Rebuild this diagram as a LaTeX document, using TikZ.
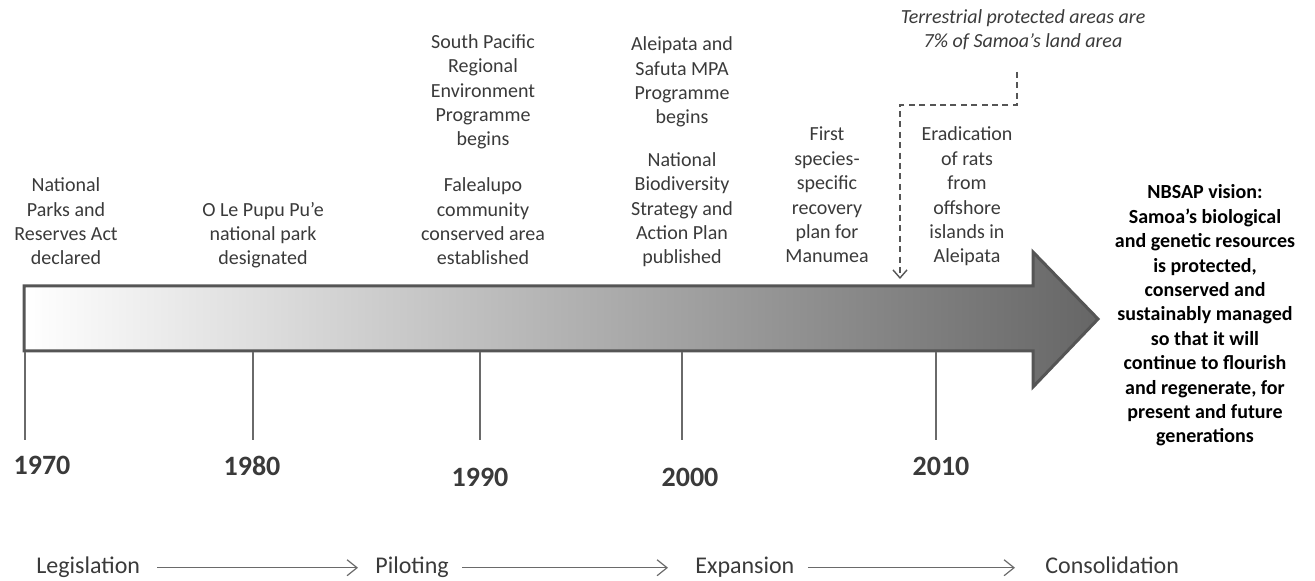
\documentclass[tikz,border=0pt]{standalone}
\usepackage{fontspec}
\setmainfont{Carlito}
\usetikzlibrary{arrows.meta}
\definecolor{txt}{HTML}{3A3A3A}
\definecolor{edge}{HTML}{555555}
\definecolor{tick}{HTML}{6A6A6A}
\tikzset{
  ev/.style={align=center, inner sep=0pt, anchor=base, text=txt, font=\fontsize{10}{12.2}\selectfont},
  evit/.style={ev, font=\fontsize{10}{12.2}\selectfont\itshape},
  vision/.style={ev, text=black, font=\fontsize{10}{12.2}\selectfont\bfseries},
  year/.style={inner sep=0pt, anchor=base, text=txt, font=\fontsize{14}{16}\selectfont\bfseries},
  phase/.style={inner sep=0pt, anchor=base west, text=txt, font=\fontsize{12}{14}\selectfont},
  tickline/.style={draw=tick, line width=0.7pt},
  phasearrow/.style={draw=tick, line width=0.6pt, -{Straight Barb[length=5pt,width=8pt,line width=0.6pt]}},
  dasharrow/.style={draw=edge, line width=0.7pt, dash pattern=on 3pt off 2.2pt, -{Straight Barb[length=4pt,width=7pt,line width=0.7pt]}}
}
\begin{document}
\begin{tikzpicture}[x=0.5pt,y=-0.5pt]
\useasboundingbox (0,0) rectangle (1315,581);
% main arrow
\shade[left color=white, right color=black!60, draw=edge, line width=1.5pt, line join=miter]
  (24,286) -- (1033,286) -- (1033,252) -- (1098,319) -- (1033,387) -- (1033,351) -- (24,351) -- cycle;
% ticks
\coordinate (t70a) at (25,352); \coordinate (t70b) at (25,440);
\coordinate (t80a) at (253,352); \coordinate (t80b) at (253,440);
\coordinate (t90a) at (480,352); \coordinate (t90b) at (480,440);
\coordinate (t00a) at (682,352); \coordinate (t00b) at (682,440);
\coordinate (t10a) at (936,352); \coordinate (t10b) at (936,440);
\draw[tickline] (t70a) -- (t70b);
\draw[tickline] (t80a) -- (t80b);
\draw[tickline] (t90a) -- (t90b);
\draw[tickline] (t00a) -- (t00b);
\draw[tickline] (t10a) -- (t10b);
% years
\node[year] (y70) at (42,475) {1970};
\node[year] (y80) at (252,476) {1980};
\node[year] (y90) at (480,487) {1990};
\node[year] (y00) at (690,487) {2000};
\node[year] (y10) at (941,476) {2010};
% events (anchor = baseline of last line)
\node[ev] (e1) at (66,265) {National\\Parks and\\Reserves Act\\declared};
\node[ev] (e2) at (263,265) {O Le Pupu Pu’e\\national park\\designated};
\node[ev] (e3) at (483,146) {South Pacific\\Regional\\Environment\\Programme\\begins};
\node[ev] (e4) at (483,265) {Falealupo\\community\\conserved area\\established};
\node[ev] (e5) at (682,124) {Aleipata and\\Safuta MPA\\Programme\\begins};
\node[ev] (e6) at (682,264) {National\\Biodiversity\\Strategy and\\Action Plan\\published};
\node[ev] (e7) at (827,263) {First\\species-\\specific\\recovery\\plan for\\Manumea};
\node[ev] (e8) at (967,263) {Eradication\\of rats\\from\\offshore\\islands in\\Aleipata};
\node[evit] (e9) at (1023,48) {Terrestrial protected areas are\\7\% of Samoa’s land area};
\node[vision] (v) at (1205,443) {NBSAP vision:\\Samoa’s biological\\and genetic resources\\is protected,\\conserved and\\sustainably managed\\so that it will\\continue to flourish\\and regenerate, for\\present and future\\generations};
% dashed connector
\coordinate (d0) at (1017,72);
\coordinate (d1) at (1017,105);
\coordinate (d2) at (900,105);
\coordinate (d3) at (900,279);
\draw[dasharrow] (d0) -- (d1) -- (d2) -- (d3);
% phases
\node[phase] (p1) at (36,574) {Legislation};
\node[phase] (p2) at (375,574) {Piloting};
\node[phase] (p3) at (695,574) {Expansion};
\node[phase] (p4) at (1045,574) {Consolidation};
\draw[phasearrow] ([xshift=8.5pt]p1.east) -- ([xshift=-8.5pt]p2.west |- p1.east);
\draw[phasearrow] ([xshift=6.5pt]p2.east |- p1.east) -- ([xshift=-13.5pt]p3.west |- p1.east);
\draw[phasearrow] ([xshift=6.5pt]p3.east |- p1.east) -- ([xshift=-15pt]p4.west |- p1.east);
\end{tikzpicture}
\end{document}
